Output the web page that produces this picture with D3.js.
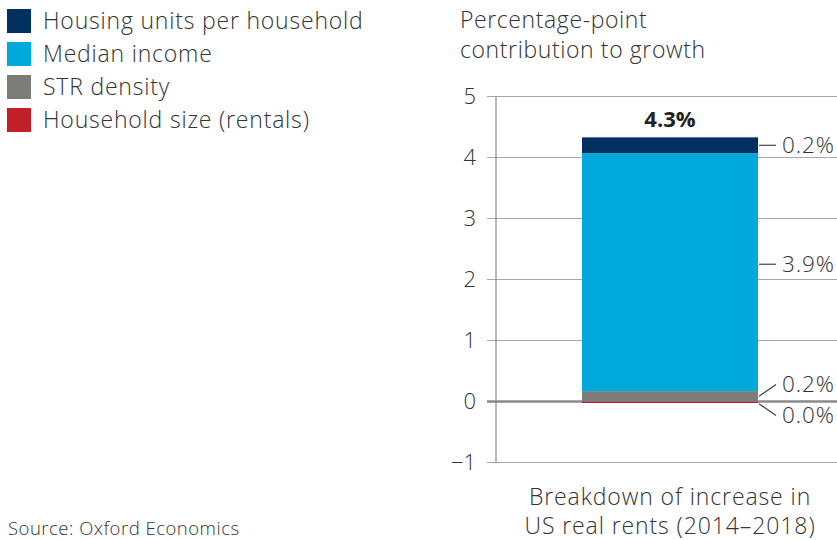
<!DOCTYPE html>
<html>
<head>
<meta charset="utf-8">
<script src="https://cdn.jsdelivr.net/npm/d3@7"></script>
<style>
  body { margin: 0; background: #fff; }
  text { font-family: "Open Sans", sans-serif; fill: #333; font-weight: 300; }
</style>
</head>
<body>
<div id="chart"></div>
<script>
// stacked components, bottom to top
const components = ['Household size (rentals)', 'STR density', 'Median income', 'Housing units per household'];
const values = [-0.02, 0.17, 3.9, 0.26];
const valueLabels = ['0.0%', '0.2%', '3.9%', '0.2%'];
const colors = ['#c0202a', '#7c7d78', '#00a9dc', '#00305f'];
const legendOrder = ['Housing units per household', 'Median income', 'STR density', 'Household size (rentals)'];
const yTicks = [-1, 0, 1, 2, 3, 4, 5];
const totalLabel = '4.3%';
const category = 'Breakdown of increase in US real rents (2014–2018)';

const width = 837, height = 540;
const svg = d3.select('#chart').append('svg')
	.attr('width', width)
	.attr('height', height);

const y = d3.scaleLinear().domain([-1, 5]).range([462.5, 96.5]);
const x = d3.scaleBand().domain([category]).range([582, 758]).padding(0);

// gridlines
svg.append('g')
	.selectAll('line')
	.data(yTicks)
	.enter().append('line')
	.attr('x1', 487)
	.attr('x2', width)
	.attr('y1', d => y(d))
	.attr('y2', d => y(d))
	.style('stroke', d => d === 0 ? '#8a8a8a' : '#a8a8a8')
	.style('stroke-width', d => d === 0 ? 2.5 : 1.2);

// y axis line
svg.append('line')
	.attr('x1', 496).attr('x2', 496)
	.attr('y1', y(5)).attr('y2', y(-1))
	.style('stroke', '#8a8a8a')
	.style('stroke-width', 1.2);

// tick labels
svg.append('g')
	.selectAll('text')
	.data(yTicks)
	.enter().append('text')
	.attr('x', 476)
	.attr('y', d => y(d))
	.attr('dy', '0.35em')
	.attr('text-anchor', 'end')
	.style('font-size', '22px')
	.text(d => d < 0 ? '\u2212' + Math.abs(d) : d);

// y title
svg.append('text')
	.attr('x', 460).attr('y', 28)
	.style('font-size', '23px')
	.style('letter-spacing', '0.6px')
	.text('Percentage-point');
svg.append('text')
	.attr('x', 460).attr('y', 58)
	.style('font-size', '23px')
	.style('letter-spacing', '0.6px')
	.text('contribution to growth');

// stack
let pos = 0, neg = 0;
const segs = values.map((v, i) => {
	let y0, y1;
	if (v >= 0) { y0 = pos; y1 = pos + v; pos = y1; }
	else { y0 = neg; y1 = neg + v; neg = y1; }
	return {key: components[i], v, y0, y1, color: colors[i], label: valueLabels[i]};
});

const bx = x(category), bw = x.bandwidth();

svg.append('g')
	.selectAll('rect')
	.data(segs)
	.enter().append('rect')
	.attr('x', bx)
	.attr('width', bw)
	.attr('y', d => y(Math.max(d.y0, d.y1)))
	.attr('height', d => Math.max(1.5, Math.abs(y(d.y0) - y(d.y1))))
	.attr('fill', d => d.color);

// total label
svg.append('text')
	.attr('x', bx + bw / 2)
	.attr('y', y(pos) - 10)
	.attr('text-anchor', 'middle')
	.style('font-size', '22px')
	.style('font-weight', 'bold')
	.style('fill', '#222')
	.text(totalLabel);

// value labels with leaders
const lx = bx + bw;
const labelPos = [
	{from: y(segs[0].y1) + 1, to: y(-0.23)},
	{from: y((segs[1].y0 + segs[1].y1) / 2), to: y(0.28)},
	{from: y(2.25), to: y(2.25)},
	{from: y((segs[3].y0 + segs[3].y1) / 2), to: y((segs[3].y0 + segs[3].y1) / 2)}
];
const leaders = svg.append('g');
segs.forEach((d, i) => {
	const p = labelPos[i];
	leaders.append('line')
		.attr('x1', lx + 1).attr('y1', p.from)
		.attr('x2', lx + 18).attr('y2', p.to)
		.style('stroke', '#444')
		.style('stroke-width', 1.2);
	leaders.append('text')
		.attr('x', lx + 24)
		.attr('y', p.to)
		.attr('dy', '0.35em')
		.style('font-size', '22.5px')
		.style('letter-spacing', '0.9px')
		.text(d.label);
});

// category label
svg.append('text')
	.attr('x', bx + bw / 2).attr('y', 505)
	.attr('text-anchor', 'middle')
	.style('font-size', '23px')
	.style('letter-spacing', '0.9px')
	.text('Breakdown of increase in');
svg.append('text')
	.attr('x', bx + bw / 2).attr('y', 534)
	.attr('text-anchor', 'middle')
	.style('font-size', '23px')
	.style('letter-spacing', '0.9px')
	.text('US real rents (2014–2018)');

// legend
const legend = svg.append('g')
	.selectAll('g')
	.data(legendOrder)
	.enter().append('g')
	.attr('transform', (d, i) => `translate(7,${ 9 + i * 33 })`);
legend.append('rect')
	.attr('width', 24).attr('height', 24)
	.attr('fill', d => colors[components.indexOf(d)]);
legend.append('text')
	.attr('x', 36).attr('y', 12)
	.attr('dy', '0.35em')
	.style('font-size', '23px')
	.style('letter-spacing', '0.8px')
	.text(d => d);

// source
svg.append('text')
	.attr('x', 8).attr('y', 535)
	.style('font-size', '18.5px')
	.style('letter-spacing', '0.5px')
	.text('Source: Oxford Economics');
</script>
</body>
</html>
